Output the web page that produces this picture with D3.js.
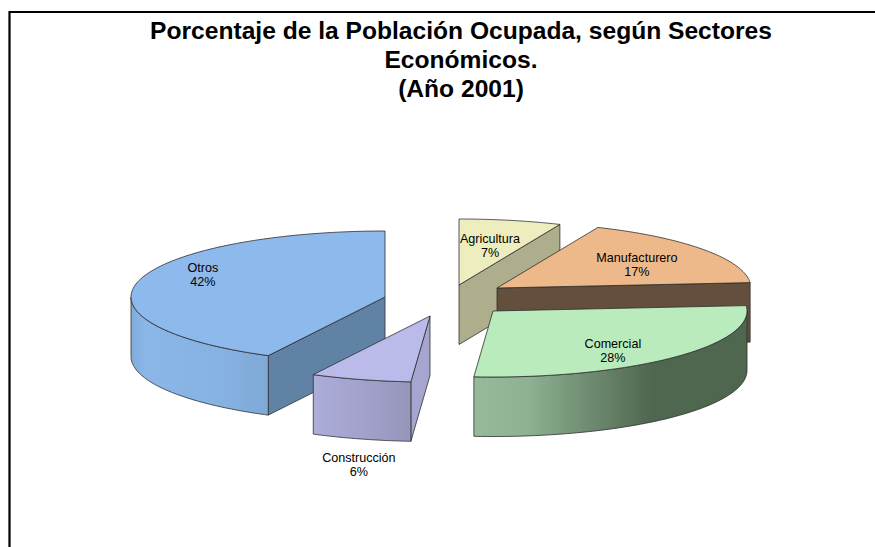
<!DOCTYPE html>
<html>
<head>
<meta charset="utf-8">
<style>
html,body{margin:0;padding:0;background:#fff;}
svg{display:block;}
text{font-family:"Liberation Sans",Arial,sans-serif;fill:#000;}
</style>
<script src="https://cdn.jsdelivr.net/npm/d3@7/dist/d3.min.js"></script>
</head>
<body>
<script>
// Data
const categories = ["Agricultura", "Manufacturero", "Comercial", "Construcción", "Otros"];
const shares = [6.5, 17.2, 27.5, 6.4, 42.4];
const titleLines = ["Porcentaje de la Población Ocupada, según Sectores", "Económicos.", "(Año 2001)"];

// Appearance / layout
const topColors = ["#EDEDBD", "#EDB98A", "#B9EBBD", "#BBBBEB", "#8DB9EC"];
const cutColors = ["#AEAE8C", "#634F3C", "#4F664F", "#A5A5CF", "#5F82A5"];
const wallStops = [
  [["0%", "#AEAE8C"], ["100%", "#AEAE8C"]],
  [["0%", "#634F3C"], ["100%", "#634F3C"]],
  [["0%", "#96BB9A"], ["20%", "#8DB192"], ["65%", "#4F664F"], ["100%", "#4F664F"]],
  [["0%", "#ADADDB"], ["100%", "#9696BB"]],
  [["0%", "#80ACDC"], ["10%", "#8AB7E8"], ["60%", "#87B3E3"], ["100%", "#7FA9D6"]]
];
const apexes = [[459, 285], [497, 288], [493, 311], [430, 316], [385, 297]];
const labelAt = [[0.122, -0.59], [0.551, -0.35], [0.472, 0.6], [-0.28, 2.25], [-0.717, -0.333]];
const RX = 254, RY = 66, DEPTH = 59.5;

const W = 875, H = 547;
const svg = d3.select("body").append("svg").attr("width", W).attr("height", H);
svg.append("rect").attr("width", W).attr("height", H).attr("fill", "#fff");

// Frame
svg.append("path").attr("d", d3.line()([[9.5, H], [9.5, 12], [W, 12]]))
  .attr("fill", "none").attr("stroke", "#000").attr("stroke-width", 2.2);

// Title
const title = svg.append("text").attr("text-anchor", "middle")
  .attr("font-size", 24.6).attr("font-weight", "bold");
titleLines.forEach((t, i) => title.append("tspan").attr("x", 461).attr("y", 39 + i * 29).text(t));

// Pie geometry
const pie = d3.pie().sort(null).value(d => d)(shares);
const sx = d3.scaleLinear().domain([-1, 1]).range([-RX, RX]);
const sy = d3.scaleLinear().domain([-1, 1]).range([-RY, RY]);
const ell = a => [sx(Math.sin(a)), sy(-Math.cos(a))];
const line = d3.line();
const arcPts = (a0, a1) => d3.range(0, 65).map(i => ell(a0 + (a1 - a0) * i / 64));
const defs = svg.append("defs");

const order = d3.range(shares.length).sort((a, b) => apexes[a][1] - apexes[b][1]);
const STROKE = "#2f2f2f", SW = 0.8;

order.forEach(i => {
  const p = pie[i];
  const [ax, ay] = apexes[i];
  const g = svg.append("g").attr("transform", `translate(${ax},${ay})`);
  const down = pts => pts.map(q => [q[0], q[1] + DEPTH]);

  const face = (pts, fill) => g.append("path").attr("d", line(pts) + "Z")
    .attr("fill", fill).attr("stroke", STROKE).attr("stroke-width", SW).attr("stroke-linejoin", "round");

  // Cut faces that look toward the viewer
  const cut = a => {
    const c = ell(a);
    face([[0, 0], c, [c[0], c[1] + DEPTH], [0, DEPTH]], cutColors[i]);
  };
  if (Math.sin(p.endAngle) > 0) cut(p.endAngle);   // right half: end face
  if (i === 4) cut(p.startAngle);
  if (i === 3) cut(p.startAngle);

  // Outer curved wall: only the part facing the front (90° to 270°)
  const a0 = Math.max(p.startAngle, Math.PI / 2), a1 = Math.min(p.endAngle, Math.PI * 1.5);
  if (a1 > a0) {
    const id = "wall" + i;
    const lg = defs.append("linearGradient").attr("id", id);
    wallStops[i].forEach(s => lg.append("stop").attr("offset", s[0]).attr("stop-color", s[1]));
    const top = arcPts(a0, a1);
    face(top.concat(down(top).reverse()), `url(#${id})`);
  }

  // Top face
  face([[0, 0]].concat(arcPts(p.startAngle, p.endAngle)), topColors[i]);
});

// Labels
categories.forEach((c, i) => {
  const x = apexes[i][0] + sx(labelAt[i][0]), y = apexes[i][1] + sy(labelAt[i][1]);
  const t = svg.append("text").attr("text-anchor", "middle").attr("font-size", 12.6);
  t.append("tspan").attr("x", x).attr("y", y - 3).text(c);
  t.append("tspan").attr("x", x).attr("y", y + 11).text(Math.round(shares[i]) + "%");
});
</script>
</body>
</html>
